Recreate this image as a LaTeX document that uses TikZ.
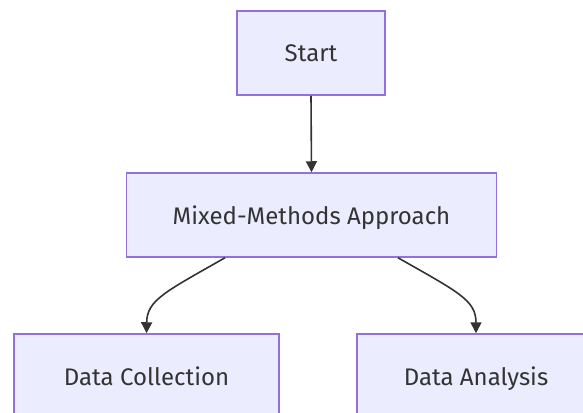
\documentclass[tikz,border=0pt]{standalone}
\usepackage{fontspec}
\setmainfont{Fira Sans}
\usetikzlibrary{arrows.meta,calc}
\definecolor{nodefill}{HTML}{ECECFF}
\definecolor{nodeline}{HTML}{9370DB}
\definecolor{edgecol}{HTML}{333333}
\begin{document}
\begin{tikzpicture}[x=1pt,y=-1pt,
  box/.style={draw=nodeline,fill=nodefill,line width=1.5pt,inner sep=0pt,
    font=\fontsize{24}{27}\selectfont,text=edgecol,
    text height=21pt,text depth=3pt},
  link/.style={draw=edgecol,line width=1.6pt,
    -{Triangle[length=11pt,width=11pt]}}]
\useasboundingbox (0,0) rectangle (583,412);
\clip (0,0) rectangle (583,412);
\node[box,minimum width=148pt,minimum height=84pt] (start) at (311,53) {Start};
\node[box,minimum width=370pt,minimum height=84pt] (mix) at (311.5,215) {Mixed-Methods Approach};
\node[box,minimum width=265pt,minimum height=84pt] (coll) at (146.5,376) {Data Collection};
\node[box,minimum width=238pt,minimum height=84pt] (anal) at (476,376) {Data Analysis};
\draw[link] (start.south) -- (mix.north);
\draw[link] ($(mix.south)+(-86.5,0)$) .. controls (165,292) and (147,300) .. (coll.north);
\draw[link] ($(mix.south)+(86.5,0)$) .. controls (458,292) and (476,300) .. (anal.north);
\end{tikzpicture}
\end{document}
